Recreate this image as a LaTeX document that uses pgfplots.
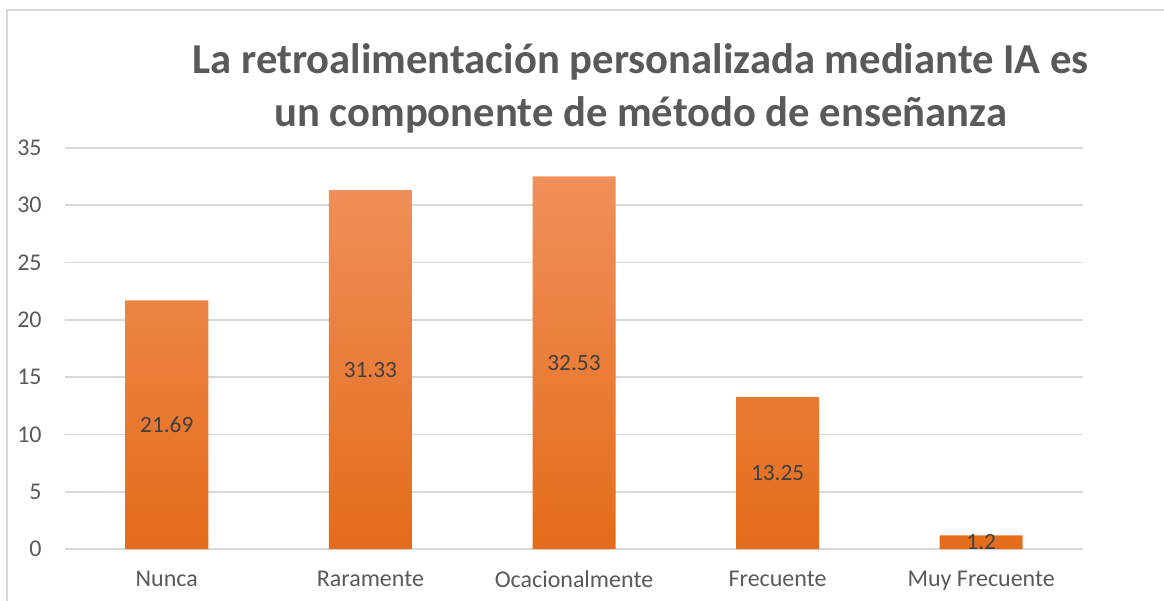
\documentclass[border=0pt]{standalone}
\usepackage{pgfplots}
\pgfplotsset{compat=1.18}
\usepackage{fontspec}
\setmainfont{Carlito}
\definecolor{gridgray}{HTML}{D9D9D9}
\definecolor{txtgray}{HTML}{595959}
\definecolor{lblgray}{HTML}{404040}
\definecolor{bartop}{HTML}{F0905A}
\definecolor{barmid}{HTML}{F47F2F}
\definecolor{barbot}{HTML}{E46C1A}
\begin{document}
\begin{tikzpicture}
\path[use as bounding box] (0,0) rectangle (873pt,450pt);
\draw[gridgray, line width=1.5pt] (5.25pt,-2pt) -- (5.25pt,442.5pt) -- (876pt,442.5pt);
\node[anchor=base, text=txtgray, font=\fontsize{32}{36}\selectfont\bfseries] at (480.5pt,394.5pt) {La retroalimentación personalizada mediante IA es};
\node[anchor=base, text=txtgray, font=\fontsize{32}{36}\selectfont\bfseries] at (480.5pt,354.75pt) {un componente de método de enseñanza};
\begin{axis}[
  at={(48.75pt,38.25pt)}, anchor=south west,
  scale only axis, width=763.5pt, height=300.75pt,
  xmin=-0.5, xmax=4.5, ymin=0, ymax=35,
  ytick={0,5,...,35},
  xtick={0,1,2,3,4},
  xticklabels={Nunca,Raramente,Ocacionalmente,Frecuente,Muy Frecuente},
  ymajorgrids, grid style={draw=gridgray, line width=1.2pt},
  axis line style={draw=none},
  major tick length=0pt,
  /pgf/number format/assume math mode=true,
  tick label style={text=txtgray, font=\fontsize{18}{21}\selectfont},
  yticklabel style={xshift=-14pt},
  xticklabel style={yshift=-13pt},
  clip=false,
]
\addplot[ybar, bar width=62.25pt, draw=none,
  top color=bartop, middle color=barmid, bottom color=barbot,
  point meta=explicit symbolic,
  visualization depends on={y \as \rawy},
  nodes near coords,
  every node near coord/.append style={anchor=center, text=lblgray,
    font=\fontsize{17.5}{20}\selectfont,
    shift={(axis direction cs:0,-\rawy/2)}},
] coordinates {
  (0,21.69) [21.69]
  (1,31.33) [31.33]
  (2,32.53) [32.53]
  (3,13.25) [13.25]
  (4,1.2) [1.2]
};
\end{axis}
\end{tikzpicture}
\end{document}
